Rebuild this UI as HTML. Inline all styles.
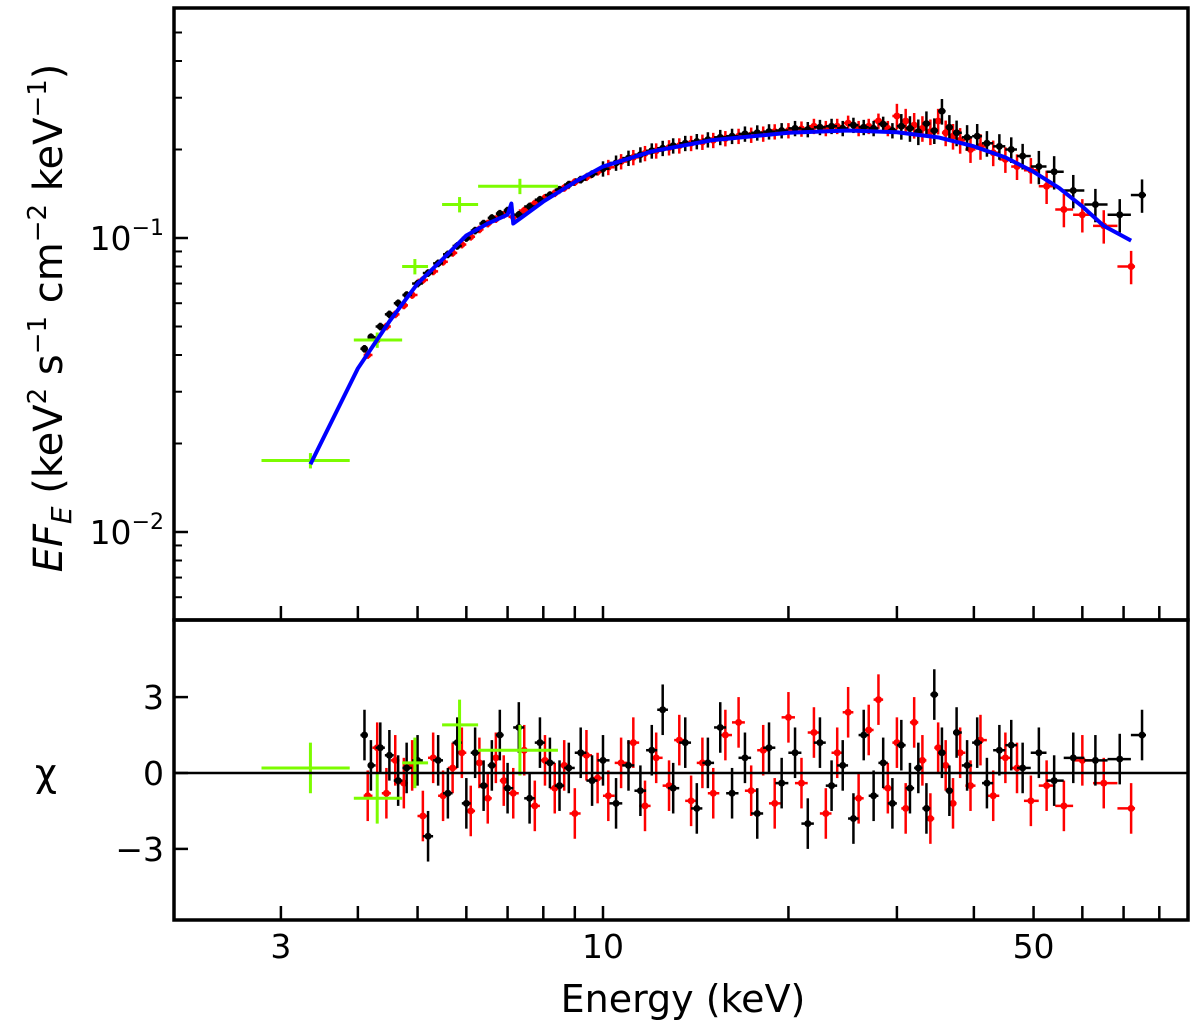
<!DOCTYPE html>
<html><head><meta charset="utf-8"><style>
html,body{margin:0;padding:0;background:#fff;}
svg{display:block;font-family:"DejaVu Sans","Liberation Sans",sans-serif;}
</style></head><body>
<svg id="chart" width="1200" height="1029" viewBox="0 0 1200 1029" xmlns="http://www.w3.org/2000/svg">
<g id="topPlot"></g>
<g id="botPlot"></g>
<g id="axes"></g>
<text x="683" y="1012" font-size="38" text-anchor="middle">Energy (keV)</text>
<text transform="translate(62,318) rotate(-90)" font-size="40" text-anchor="middle"><tspan font-style="italic">EF</tspan><tspan font-style="italic" font-size="28" dy="9">E</tspan><tspan dy="-9"> (keV</tspan><tspan font-size="26" dy="-16">2</tspan><tspan dy="16"> s</tspan><tspan font-size="26" dy="-16">−1</tspan><tspan dy="16"> cm</tspan><tspan font-size="26" dy="-16">−2</tspan><tspan dy="16"> keV</tspan><tspan font-size="26" dy="-16">−1</tspan><tspan dy="16">)</tspan></text>
<text x="46" y="786" font-size="38" text-anchor="middle">χ</text>
</svg>
<script>
const blackE=[4.1,4.2,4.35,4.5,4.65,4.8,5.0,5.2,5.4,5.6,5.8,6.0,6.2,6.4,6.6,6.8,7.0,7.3,7.6,7.9,8.2,8.5,8.8,9.2,9.6,10,10.5,11,11.5,12,12.5,13,13.6,14.2,14.8,15.5,16.2,17,17.8,18.6,19.5,20.5,21.5,22.5,23.5,24.5,25.5,26.5,27.5,28.5,29.5,30.5,31.5,32.5,33.5,34.5,35.5,36.5,37.5,39,40.5,42,44,46,48,51,54,58,63,69,75];
const blackFlux=[.042,.046,.05,.055,.06,.064,.07,.076,.082,.088,.094,.1,.106,.112,.117,.121,.124,.12,.128,.135,.14,.146,.152,.158,.165,.172,.18,.187,.192,.198,.202,.206,.21,.213,.216,.22,.222,.226,.228,.23,.232,.236,.234,.238,.24,.236,.242,.238,.236,.244,.232,.24,.236,.23,.245,.232,.27,.238,.228,.22,.222,.21,.205,.2,.19,.175,.168,.145,.13,.12,.14];
const blackChi=[1.5,0.3,1.0,0.7,-0.3,0.2,0.5,-2.5,0.5,-0.8,1.2,-1.2,0.8,-0.5,0.3,1.5,-0.6,1.8,-1.0,1.2,0.4,-0.5,0.2,0.8,-0.3,0.5,-1.2,0.3,-0.7,0.9,2.5,-0.6,1.2,-1.4,0.4,1.8,-0.8,0.6,-1.6,1.0,-0.4,0.8,-2.0,1.2,-0.5,0.3,-1.8,1.5,-0.9,0.4,-1.2,1.1,-0.6,0.2,-1.4,3.1,0.8,-0.7,1.6,0.3,1.2,-0.4,0.9,1.1,0.2,0.8,-0.3,0.6,0.5,0.55,1.5];
const redE=[4.15,4.3,4.45,4.6,4.75,4.9,5.1,5.3,5.5,5.7,5.9,6.1,6.3,6.5,6.7,6.9,7.15,7.45,7.75,8.05,8.35,8.65,9.0,9.4,9.8,10.2,10.7,11.2,11.7,12.2,12.8,13.3,13.9,14.5,15.1,15.8,16.6,17.4,18.2,19,20,21,22,23,24,25,26,27,28,29,30,31,32,33,34,35,36,37,38,39.5,41,43,45,47,49.5,52.5,56,60,65,72];
const redFlux=[.04,.045,.05,.055,.059,.064,.072,.077,.083,.089,.095,.101,.107,.112,.116,.12,.118,.124,.131,.137,.142,.148,.155,.161,.168,.174,.182,.188,.194,.198,.203,.206,.21,.212,.215,.218,.222,.224,.226,.23,.232,.235,.24,.236,.24,.246,.236,.24,.25,.236,.26,.25,.242,.236,.23,.25,.228,.222,.215,.2,.205,.195,.185,.175,.17,.15,.125,.12,.11,.08];
const redChi=[-0.9,1.0,-0.8,0.5,-0.4,0.3,-1.7,0.6,-0.9,0.2,0.8,-1.5,0.4,-1.0,0.6,-0.3,-0.8,0.9,-1.3,0.5,-0.6,0.3,-1.6,0.7,-0.2,-0.9,0.4,1.2,-1.3,0.6,-0.5,1.3,-1.1,0.4,-0.8,1.5,2.0,-0.7,0.9,-1.2,2.2,-0.4,1.6,-1.6,0.8,2.4,-1.0,1.7,2.9,-0.6,1.2,-1.4,2.0,0.5,-1.8,1.0,0.3,-1.2,0.8,-0.5,1.3,-0.9,0.6,0.2,-1.1,-0.5,-1.3,0.5,-0.4,-1.4];
const greenE=[3.35,4.3,4.95,5.85,7.33];
const greenLo=[2.79,3.94,4.72,5.48,6.27];
const greenHi=[3.88,4.72,5.2,6.27,8.45];
const greenFlux=[0.0175,0.045,0.08,0.13,0.15];
const greenChi=[0.2,-1.0,0.4,1.9,0.9];
const modelE=[3.35,4.0,4.5,5.0,5.5,6.0,6.5,7.0,7.1,7.15,7.4,8,9,10,12,15,20,25,30,35,40,45,50,55,60,65,72];
const modelFlux=[.017,.036,.052,.07,.085,.102,.112,.12,.131,.112,.118,.133,.155,.175,.197,.215,.228,.232,.229,.22,.205,.188,.168,.148,.128,.11,.098];
const errEdges=[10,30,50,1000];
const errFracs=[0.03,0.06,0.1,0.13];
const xTickVals=[3,10,50];
const xTickLabels=["3","10","50"];
const yTickLabels=["10","10"];
const yTickExp=["−1","−2"];
const chiTicks=[3,0,-3];
const chiTickLabels=["3","0","−3"];

const NS="http://www.w3.org/2000/svg";
const L=174,R=1188,T1=8,B1=620,B2=920;
const xs=e=>603+616*Math.log10(e/10);
const ys=f=>238-294*Math.log10(f/0.1);
const yc=c=>773-25.3*c;
function mk(parent,tag,attrs){const el=document.createElementNS(NS,tag);for(const k in attrs)el.setAttribute(k,attrs[k]);parent.appendChild(el);return el;}
const topG=document.getElementById('topPlot'),botG=document.getElementById('botPlot'),axG=document.getElementById('axes');
function errFrac(e){for(let i=0;i<errEdges.length;i++)if(e<errEdges[i])return errFracs[i];return errFracs[errFracs.length-1];}
function halfW(E,i){const a=i>0?E[i-1]:E[i]*0.97,b=i<E.length-1?E[i+1]:E[i]*1.03;return [Math.sqrt(a*E[i]),Math.sqrt(b*E[i])];}
function series(E,F,C,col,name){
  for(let i=0;i<E.length;i++){
    const [lo,hi]=halfW(E,i);const x=xs(E[i]);
    const g=mk(topG,'g',{});
    
    
    const f=F[i],ef=errFrac(E[i]);
    mk(g,'line',{x1:x,x2:x,y1:ys(f*(1+ef)),y2:ys(f*(1-ef)),stroke:col,'stroke-width':2.5});
    mk(g,'line',{x1:xs(lo),x2:xs(hi),y1:ys(f),y2:ys(f),stroke:col,'stroke-width':2.5});
    mk(g,'circle',{cx:x,cy:ys(f),r:3.5,fill:col});
    const h=mk(botG,'g',{});
    
    
    mk(h,'line',{x1:x,x2:x,y1:yc(C[i]+1),y2:yc(C[i]-1),stroke:col,'stroke-width':2.5});
    mk(h,'line',{x1:xs(lo),x2:xs(hi),y1:yc(C[i]),y2:yc(C[i]),stroke:col,'stroke-width':2.5});
    mk(h,'circle',{cx:x,cy:yc(C[i]),r:3.5,fill:col});
  }
}
series(redE,redFlux,redChi,'#ff0000','red-data');
series(blackE,blackFlux,blackChi,'#000000','black-data');
for(let i=0;i<greenE.length;i++){
  const x=xs(greenE[i]),f=greenFlux[i];
  const g=mk(topG,'g',{});
  
  
  mk(g,'line',{x1:xs(greenLo[i]),x2:xs(greenHi[i]),y1:ys(f),y2:ys(f),stroke:'#7cfc00','stroke-width':3});
  mk(g,'line',{x1:x,x2:x,y1:ys(f*1.06),y2:ys(f*0.94),stroke:'#7cfc00','stroke-width':3});
  const h=mk(botG,'g',{});
  
  
  mk(h,'line',{x1:xs(greenLo[i]),x2:xs(greenHi[i]),y1:yc(greenChi[i]),y2:yc(greenChi[i]),stroke:'#7cfc00','stroke-width':3});
  mk(h,'line',{x1:x,x2:x,y1:yc(greenChi[i]+1),y2:yc(greenChi[i]-1),stroke:'#7cfc00','stroke-width':3});
}
const mp=mk(topG,'polyline',{points:modelE.map((e,i)=>xs(e)+','+ys(modelFlux[i])).join(' '),fill:'none',stroke:'#0000ff','stroke-width':4,'stroke-linejoin':'round'});


const zl=mk(botG,'line',{x1:L,x2:R,y1:yc(0),y2:yc(0),stroke:'#000','stroke-width':2.5});


const f1=mk(axG,'rect',{x:L,y:T1,width:R-L,height:B1-T1,fill:'none',stroke:'#000','stroke-width':3.5});


const f2=mk(axG,'rect',{x:L,y:B1,width:R-L,height:B2-B1,fill:'none',stroke:'#000','stroke-width':3.5});


const minorX=[4,5,6,7,8,9,20,30,40,60,70,80];
[B1,B2].forEach(by=>{
  xTickVals.forEach(v=>mk(axG,'line',{x1:xs(v),x2:xs(v),y1:by,y2:by-14,stroke:'#000','stroke-width':2.5}));
  minorX.forEach(v=>{if(xs(v)<R)mk(axG,'line',{x1:xs(v),x2:xs(v),y1:by,y2:by-14,stroke:'#000','stroke-width':2.5});});
});
xTickVals.forEach((v,i)=>{const t=mk(axG,'text',{x:xs(v),y:958,'font-size':33,'text-anchor':'middle'});t.textContent=xTickLabels[i];

});
[0.1,0.01].forEach((v,i)=>{
  mk(axG,'line',{x1:L,x2:L+14,y1:ys(v),y2:ys(v),stroke:'#000','stroke-width':2.5});
  const t=mk(axG,'text',{x:L-10,y:ys(v)+12,'font-size':33,'text-anchor':'end'});
  
  
  const a=document.createElementNS(NS,'tspan');a.textContent=yTickLabels[i];t.appendChild(a);
  const b=document.createElementNS(NS,'tspan');b.setAttribute('font-size','22');b.setAttribute('dy','-15');b.textContent=yTickExp[i];t.appendChild(b);
});
[0.006,0.007,0.008,0.009,0.02,0.03,0.04,0.05,0.06,0.07,0.08,0.09,0.2,0.3,0.4,0.5].forEach(v=>{if(ys(v)>T1)mk(axG,'line',{x1:L,x2:L+8,y1:ys(v),y2:ys(v),stroke:'#000','stroke-width':2});});
chiTicks.forEach((v,i)=>{
  mk(axG,'line',{x1:L,x2:L+14,y1:yc(v),y2:yc(v),stroke:'#000','stroke-width':2.5});
  const t=mk(axG,'text',{x:L-10,y:yc(v)+12,'font-size':33,'text-anchor':'end'});t.textContent=chiTickLabels[i];
  
  
});
</script>
</body></html>
